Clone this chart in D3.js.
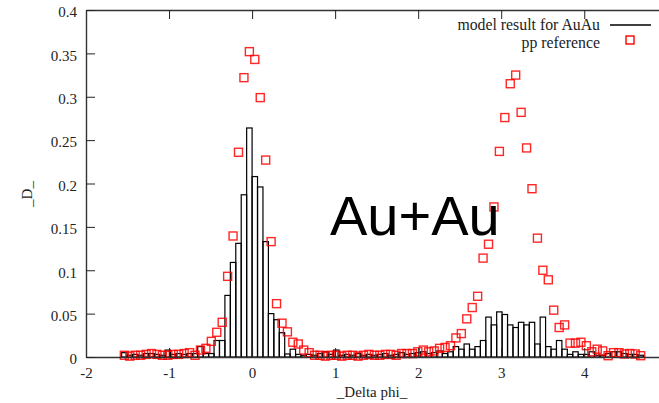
<!DOCTYPE html>
<html>
<head>
<meta charset="utf-8">
<script src="https://cdn.jsdelivr.net/npm/d3@7"></script>
<style>
  body { margin: 0; background: #fff; }
  svg { display: block; }
</style>
</head>
<body>
<svg id="chart" width="659" height="403"></svg>
<script>
// 96 bins of delta phi from -pi/2 to 3pi/2
const binLo = -Math.PI / 2;
const binHi = 3 * Math.PI / 2;

// model result for AuAu (histogram heights, one per bin)
const modelAuAu = [
  0.005, 0.002, 0.003, 0.002, 0.004, 0.004, 0.003, 0.002, 0.008, 0.003, 0.004, 0.003, 0.004, 0.004,
  0.012, 0.004, 0.004, 0.019, 0.019, 0.071, 0.109, 0.131, 0.187, 0.264, 0.208, 0.196, 0.133, 0.050,
  0.043, 0.028, 0.0035, 0.009, 0.003,
  0.002, 0.003, 0.002, 0.004, 0.006, 0.003, 0.008, 0.002, 0.003, 0.002, 0.004, 0.002, 0.003, 0.002,
  0.003, 0.004, 0.002, 0.003, 0.005, 0.003, 0.004, 0.005,
  0.006, 0.004, 0.005, 0.007, 0.004, 0.006,
  0.012, 0.009, 0.015, 0.009, 0.012, 0.019, 0.046, 0.037, 0.052, 0.049, 0.037, 0.034, 0.040, 0.037,
  0.040, 0.015, 0.046, 0.012, 0.009, 0.019, 0.009,
  0.003, 0.006, 0.003, 0.003, 0.006, 0.002, 0.002, 0.004, 0.006, 0.006, 0.004, 0.003, 0.003, 0.002
];

// pp reference (points, one per bin centre)
const ppReference = [
  0.002, 0.001, 0.002, 0.002, 0.003, 0.004, 0.003, 0.002, 0.002, 0.003, 0.003, 0.004, 0.005, 0.002,
  0.008, 0.010, 0.018, 0.0285, 0.040, 0.093, 0.1395, 0.236, 0.322, 0.352, 0.343, 0.299, 0.227, 0.133,
  0.0615, 0.039, 0.029, 0.017, 0.015, 0.008, 0.005,
  0.002, 0.002, 0.001, 0.002, 0.002, 0.001, 0.002, 0.002, 0.001, 0.002, 0.003, 0.002, 0.002, 0.003,
  0.003, 0.002, 0.004, 0.004, 0.004, 0.006,
  0.008, 0.006, 0.007, 0.010, 0.011, 0.013, 0.022, 0.027, 0.044, 0.057, 0.070, 0.114, 0.130, 0.173,
  0.237, 0.276, 0.315, 0.325, 0.282, 0.241, 0.194, 0.137, 0.100, 0.089, 0.054, 0.034, 0.037,
  0.016, 0.016, 0.017, 0.013, 0.006, 0.009, 0.007, 0.0015, 0.005, 0.005, 0.0035, 0.004, 0.0035, 0.0015
];

const xTicks = [-2, -1, 0, 1, 2, 3, 4];
const yTicks = [0, 0.05, 0.1, 0.15, 0.2, 0.25, 0.3, 0.35, 0.4];

const serif = "'Liberation Serif', 'DejaVu Serif', serif";
const svg = d3.select('#chart');

const xScale = d3.scaleLinear().domain([-2, 5]).range([86, 667.3]);
const yScale = d3.scaleLinear().domain([0, 0.4]).range([357, 10]);

const nBins = modelAuAu.length;
const binW = (binHi - binLo) / nBins;
const binLeft = (i) => binLo + i * binW;

// Histogram of the model result
svg.append('g')
  .selectAll('rect')
  .data(modelAuAu)
  .join('rect')
  .attr('x', (d, i) => xScale(binLeft(i)))
  .attr('width', (d, i) => xScale(binLeft(i + 1)) - xScale(binLeft(i)))
  .attr('y', (d) => yScale(d))
  .attr('height', (d) => yScale(0) - yScale(d))
  .attr('fill', 'none')
  .attr('stroke', '#000')
  .attr('stroke-width', 1.2);

// pp reference squares
const sq = 8;
svg.append('g')
  .selectAll('rect')
  .data(ppReference)
  .join('rect')
  .attr('x', (d, i) => xScale(binLeft(i) + binW / 2) - sq / 2)
  .attr('y', (d) => yScale(d) - sq / 2)
  .attr('width', sq)
  .attr('height', sq)
  .attr('fill', 'none')
  .attr('stroke', '#f00')
  .attr('stroke-opacity', 0.85)
  .attr('stroke-width', 1.4);

// Axes, gnuplot style: ticks pointing inward
const styleAxis = (g) => {
  g.select('.domain').attr('stroke', '#333').attr('stroke-width', 1.4);
  g.selectAll('line').attr('stroke', '#222');
  g.selectAll('text')
    .attr('font-family', serif)
    .attr('font-size', 15)
    .attr('fill', '#222');
};

svg.append('g')
  .attr('transform', `translate(0, ${yScale(0)})`)
  .call(d3.axisBottom(xScale).tickValues(xTicks).tickSize(-9).tickSizeOuter(0).tickPadding(10)
    .tickFormat((v) => String(v)))
  .call(styleAxis);

svg.append('g')
  .attr('transform', `translate(0, ${yScale(0.4)})`)
  .call(d3.axisTop(xScale).tickValues(xTicks).tickSize(-9).tickSizeOuter(0).tickFormat(''))
  .call(styleAxis);

const yAxisGroup = svg.append('g')
  .attr('transform', `translate(${xScale(-2)}, 0)`)
  .call(d3.axisLeft(yScale).tickValues(yTicks).tickSize(-9).tickSizeOuter(0).tickPadding(9)
    .tickFormat((v) => String(+v.toFixed(2))))
  .call(styleAxis);
yAxisGroup.selectAll('text').attr('dy', '0.45em');

// Axis titles
svg.append('text')
  .attr('x', 372)
  .attr('y', 397)
  .attr('text-anchor', 'middle')
  .attr('font-family', serif)
  .attr('font-size', 15)
  .attr('fill', '#222')
  .text('_Delta phi_');

svg.append('text')
  .attr('transform', 'translate(32, 194) rotate(-90)')
  .attr('text-anchor', 'middle')
  .attr('font-family', serif)
  .attr('font-size', 15)
  .attr('fill', '#222')
  .text('_D_');

// Legend
const legend = svg.append('g');
legend.append('text')
  .attr('x', 600).attr('y', 30)
  .attr('text-anchor', 'end')
  .attr('font-family', serif).attr('font-size', 15.8).attr('fill', '#222')
  .text('model result for AuAu');
legend.append('line')
  .attr('x1', 610).attr('x2', 651).attr('y1', 25).attr('y2', 25)
  .attr('stroke', '#000').attr('stroke-width', 1.4);
legend.append('text')
  .attr('x', 600).attr('y', 47.5)
  .attr('text-anchor', 'end')
  .attr('font-family', serif).attr('font-size', 15.8).attr('fill', '#222')
  .text('pp reference');
legend.append('rect')
  .attr('x', 630 - sq / 2).attr('y', 40 - sq / 2)
  .attr('width', sq).attr('height', sq)
  .attr('fill', 'none').attr('stroke', '#f00').attr('stroke-width', 1.4);

// Big label
svg.append('text')
  .attr('x', 330)
  .attr('y', 235)
  .attr('font-family', "'Liberation Sans', Arial, sans-serif")
  .attr('font-size', 56)
  .attr('fill', '#000')
  .text('Au+Au');
</script>
</body>
</html>
